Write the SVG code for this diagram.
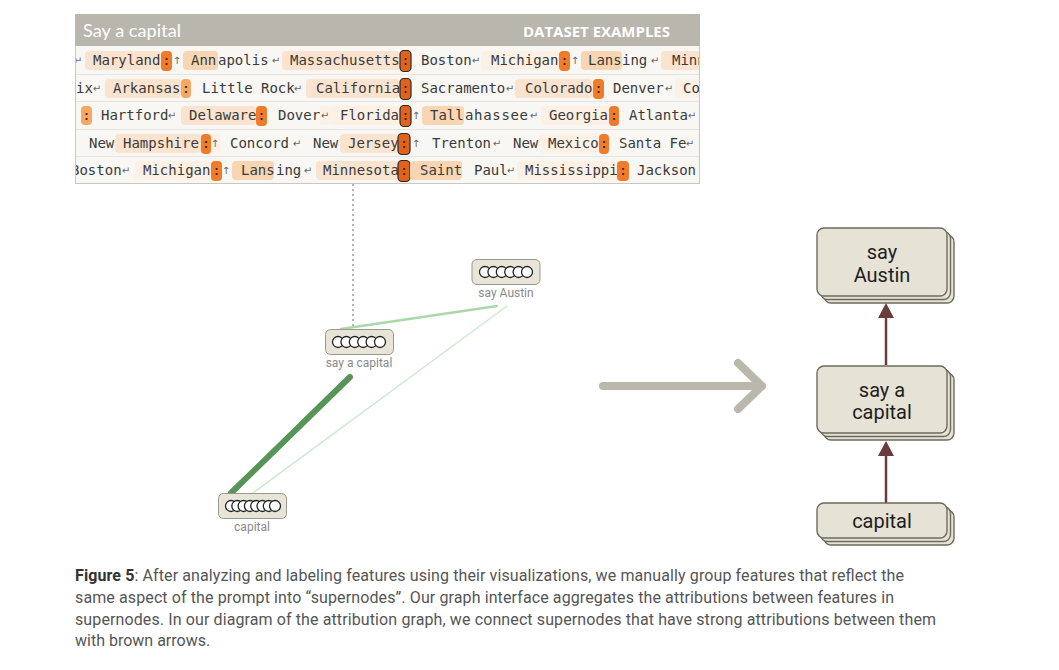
<svg xmlns="http://www.w3.org/2000/svg" width="1059" height="670" viewBox="0 0 1059 670">
<style>
.m{font-family:"DejaVu Sans Mono",monospace;font-size:14px;fill:#3a3a3a}
.cl{font-family:"DejaVu Sans Mono",monospace;font-size:14px;fill:#3a2010;text-anchor:middle}
.ar{font-family:"DejaVu Sans",sans-serif;font-size:10px;fill:#666;text-anchor:middle}
.h1{fill:#fbe4cf}
.h0{fill:#fdf0e4}
.h2{fill:#f9d6b3}
.c{fill:#f07b2b}
.cL{fill:#f6a764}
.cd{fill:#e2621b;stroke:#2a2a2a;stroke-width:1.2}
.gn rect.b{fill:#e8e5d8;stroke:#9a988c;stroke-width:1}
.gn circle{fill:#fff;stroke:#222;stroke-width:1.3}
.gl{font-family:Roboto,"Liberation Sans",sans-serif;font-size:12px;fill:#8a8a8a;text-anchor:middle}
.sn rect{fill:#e6e2d6;stroke:#6d6b5e;stroke-width:1.4}
.st{font-family:Roboto,"Liberation Sans",sans-serif;font-size:20px;fill:#1e1e1e;text-anchor:middle}
.cap{font-family:Roboto,"Liberation Sans",sans-serif;font-size:16px;fill:#555}
.ah{fill:#6b3a3a}
</style>
<defs>
<clipPath id="pc"><rect x="76" y="46" width="623" height="137"/></clipPath>
</defs>
<rect width="1059" height="670" fill="#fff"/>

<g id="dataset-panel">
<rect x="75.5" y="14.5" width="624" height="169" fill="#f8f7f3" stroke="#c9c7bf"/>
<rect x="75" y="14" width="625" height="32" fill="#b9b6ad"/>
<text x="83" y="37" font-family="Lato,'Open Sans',sans-serif" font-size="18" fill="#fff" textLength="98" lengthAdjust="spacingAndGlyphs">Say a capital</text>
<text x="523" y="37" font-family="'Open Sans','Noto Sans',sans-serif" font-size="14" font-weight="bold" fill="#fff" textLength="147" lengthAdjust="spacingAndGlyphs">DATASET EXAMPLES</text>
<g stroke="#e6e4de" stroke-width="1">
<line x1="76" y1="74.5" x2="699" y2="74.5"/>
<line x1="76" y1="101.5" x2="699" y2="101.5"/>
<line x1="76" y1="129.5" x2="699" y2="129.5"/>
<line x1="76" y1="156.5" x2="699" y2="156.5"/>
</g>
<g clip-path="url(#pc)">
<!-- row 1 -->
<text class="ar" x="78" y="64" fill="#aaa">↵</text>
<rect class="h1" x="85" y="51" width="76" height="19" rx="4"/><text class="m" x="93" y="65">Maryland</text>
<rect class="c" x="161" y="51" width="11" height="20" rx="4"/><text class="cl" x="166.5" y="65">:</text>
<text class="ar" x="177" y="64">↑</text>
<rect class="h2" x="183" y="51" width="35" height="19" rx="4"/><text class="m" x="191" y="65">Ann</text>
<text class="m" x="218" y="65">apolis</text>
<text class="ar" x="276" y="64">↵</text>
<rect class="h1" x="282" y="51" width="118" height="19" rx="4"/><text class="m" x="290" y="65">Massachusetts</text>
<rect class="cd" x="400" y="50.5" width="11" height="21" rx="4"/><text class="cl" x="405.5" y="65">:</text>
<text class="m" x="421" y="65">Boston</text>
<text class="ar" x="476" y="64">↵</text>
<rect class="h0" x="481" y="51" width="78" height="19" rx="4"/><text class="m" x="491" y="65">Michigan</text>
<rect class="c" x="559" y="51" width="11" height="20" rx="4"/><text class="cl" x="564.5" y="65">:</text>
<text class="ar" x="575" y="64">↑</text>
<rect class="h2" x="581" y="51" width="41" height="19" rx="4"/><text class="m" x="588" y="65">Lans</text>
<text class="m" x="622" y="65">ing</text>
<text class="ar" x="655" y="64">↵</text>
<rect class="h1" x="661" y="51" width="50" height="19" rx="4"/><text class="m" x="672" y="65">Minn</text>
<!-- row 2 -->
<text class="m" x="76" y="93">ix</text>
<text class="ar" x="97" y="92">↵</text>
<rect class="h1" x="105" y="79" width="76" height="19" rx="4"/><text class="m" x="113" y="93">Arkansas</text>
<rect class="cL" x="181" y="79" width="10" height="19" rx="4"/><text class="cl" x="186" y="93">:</text>
<text class="m" x="202" y="93">Little Rock</text>
<text class="ar" x="298" y="92">↵</text>
<rect class="h1" x="306" y="79" width="94" height="19" rx="4"/><text class="m" x="316" y="93">California</text>
<rect class="cd" x="400" y="78.5" width="11" height="21" rx="4"/><text class="cl" x="405.5" y="93">:</text>
<text class="m" x="421" y="93">Sacramento</text>
<text class="ar" x="510" y="92">↵</text>
<rect class="h1" x="515" y="79" width="78" height="19" rx="4"/><text class="m" x="525" y="93">Colorado</text>
<rect class="c" x="593" y="79" width="11" height="20" rx="4"/><text class="cl" x="598.5" y="93">:</text>
<text class="m" x="613" y="93">Denver</text>
<text class="ar" x="669" y="92">↵</text>
<rect class="h0" x="675" y="79" width="40" height="19" rx="4"/><text class="m" x="683" y="93">Co</text>
<!-- row 3 -->
<rect class="cL" x="81" y="106" width="11" height="19" rx="4"/><text class="cl" x="86.5" y="120">:</text>
<text class="m" x="101" y="120">Hartford</text>
<text class="ar" x="172" y="119">↵</text>
<rect class="h1" x="181" y="106" width="75" height="19" rx="4"/><text class="m" x="189" y="120">Delaware</text>
<rect class="c" x="256" y="106" width="11" height="20" rx="4"/><text class="cl" x="261.5" y="120">:</text>
<text class="m" x="278" y="120">Dover</text>
<rect class="h0" x="320" y="106" width="10" height="19" rx="3"/><text class="ar" x="325" y="119">↵</text>
<rect class="h0" x="330" y="106" width="70" height="19" rx="4"/><text class="m" x="340" y="120">Florida</text>
<rect class="cd" x="400" y="105.5" width="11" height="21" rx="4"/><text class="cl" x="405.5" y="120">:</text>
<text class="ar" x="416" y="119">↑</text>
<rect class="h2" x="422" y="106" width="42" height="19" rx="4"/><text class="m" x="430" y="120">Tall</text>
<text class="m" x="465" y="120" textLength="63">ahassee</text>
<text class="ar" x="534" y="119">↵</text>
<rect class="h0" x="541" y="106" width="68" height="19" rx="4"/><text class="m" x="549" y="120">Georgia</text>
<rect class="c" x="609" y="106" width="10" height="20" rx="4"/><text class="cl" x="614" y="120">:</text>
<text class="m" x="629" y="120">Atlanta</text>
<text class="ar" x="692" y="119">↵</text>
<!-- row 4 -->
<text class="m" x="89" y="148">New</text>
<rect class="h0" x="115" y="134" width="105" height="19" rx="4"/>
<rect class="h1" x="115" y="134" width="86" height="19" rx="4"/><text class="m" x="123" y="148">Hampshire</text>
<rect class="c" x="201" y="134" width="10" height="20" rx="4"/><text class="cl" x="206" y="148">:</text>
<text class="ar" x="215" y="147">↑</text>
<text class="m" x="230" y="148">Concord</text>
<text class="ar" x="297" y="147">↵</text>
<text class="m" x="313" y="148">New</text>
<rect class="h1" x="340" y="134" width="58" height="19" rx="4"/><text class="m" x="348" y="148">Jersey</text>
<rect class="cd" x="398" y="133.5" width="12" height="21" rx="4"/><text class="cl" x="404" y="148">:</text>
<text class="ar" x="416" y="147">↑</text>
<text class="m" x="432" y="148">Trenton</text>
<text class="ar" x="497" y="147">↵</text>
<text class="m" x="513" y="148">New</text>
<rect class="h0" x="539" y="134" width="60" height="19" rx="4"/><text class="m" x="548" y="148">Mexico</text>
<rect class="c" x="599" y="134" width="10" height="20" rx="4"/><text class="cl" x="604" y="148">:</text>
<text class="m" x="619" y="148">Santa Fe</text>
<text class="ar" x="690" y="147">↵</text>
<!-- row 5 -->
<text class="m" x="71" y="175">Boston</text>
<text class="ar" x="126" y="174">↵</text>
<rect class="h0" x="135" y="161" width="76" height="19" rx="4"/><text class="m" x="143" y="175">Michigan</text>
<rect class="c" x="211" y="161" width="11" height="20" rx="4"/><text class="cl" x="216.5" y="175">:</text>
<text class="ar" x="226" y="174">↑</text>
<rect class="h2" x="232" y="161" width="42" height="19" rx="4"/><text class="m" x="241" y="175">Lans</text>
<text class="m" x="276" y="175">ing</text>
<text class="ar" x="308" y="174">↵</text>
<rect class="h1" x="316" y="161" width="82" height="19" rx="4"/><text class="m" x="323" y="175">Minnesota</text>
<rect class="cd" x="398" y="160.5" width="12" height="21" rx="4"/><text class="cl" x="404" y="175">:</text>
<rect class="h2" x="410" y="161" width="52" height="19" rx="4"/><text class="m" x="420" y="175">Saint</text>
<text class="m" x="474" y="175">Paul</text>
<text class="ar" x="511" y="174">↵</text>
<rect class="h0" x="517" y="161" width="100" height="19" rx="4"/><text class="m" x="525" y="175">Mississippi</text>
<rect class="c" x="617" y="161" width="12" height="20" rx="4"/><text class="cl" x="623" y="175">:</text>
<text class="m" x="637" y="175">Jackson</text>
</g>
</g>

<g id="connectors">
<line x1="353" y1="184" x2="353" y2="329" stroke="#9a9a9a" stroke-width="1.5" stroke-dasharray="2,3"/>
<line x1="341" y1="329" x2="497" y2="306" stroke="#a9d9a9" stroke-width="2.5" stroke-linecap="round"/>
<line x1="507" y1="306" x2="253" y2="493" stroke="#cfe9cf" stroke-width="1.5" stroke-linecap="round"/>
<line x1="350" y1="377" x2="231" y2="493" stroke="#579457" stroke-width="6" stroke-linecap="round"/>
<line x1="886" y1="365" x2="886" y2="316" stroke="#6b3a3a" stroke-width="2.5"/>
<polygon class="ah" points="886,303 894,318 878,318"/>
<line x1="886" y1="503" x2="886" y2="454" stroke="#6b3a3a" stroke-width="2.5"/>
<polygon class="ah" points="886,441 894,456 878,456"/>
<path d="M603,386 H762 M738,363 L762,386 L738,409" fill="none" stroke="#bab7ad" stroke-width="8" stroke-linecap="round" stroke-linejoin="round"/>
</g>

<g id="g-say-austin" class="gn">
<rect class="b" x="472" y="259.5" width="68" height="25" rx="5"/>
<circle cx="485" cy="272" r="5.5"/><circle cx="493.4" cy="272" r="5.5"/><circle cx="501.8" cy="272" r="5.5"/><circle cx="510.2" cy="272" r="5.5"/><circle cx="518.6" cy="272" r="5.5"/><circle cx="527" cy="272" r="5.5"/>
<text class="gl" x="506" y="297">say Austin</text>
</g>
<g id="g-say-a-capital" class="gn">
<rect class="b" x="325.5" y="329.5" width="68" height="25" rx="5"/>
<circle cx="338" cy="342" r="5.5"/><circle cx="346.4" cy="342" r="5.5"/><circle cx="354.8" cy="342" r="5.5"/><circle cx="363.2" cy="342" r="5.5"/><circle cx="371.6" cy="342" r="5.5"/><circle cx="380" cy="342" r="5.5"/>
<text class="gl" x="359" y="367">say a capital</text>
</g>
<g id="g-capital" class="gn">
<rect class="b" x="218.5" y="493.5" width="68" height="25" rx="5"/>
<circle cx="231" cy="506" r="5.5"/><circle cx="237.3" cy="506" r="5.5"/><circle cx="243.6" cy="506" r="5.5"/><circle cx="249.9" cy="506" r="5.5"/><circle cx="256.2" cy="506" r="5.5"/><circle cx="262.5" cy="506" r="5.5"/><circle cx="268.8" cy="506" r="5.5"/><circle cx="275" cy="506" r="5.5"/>
<text class="gl" x="252" y="531">capital</text>
</g>

<g id="s-say-austin" class="sn">
<rect x="824" y="235" width="130" height="68" rx="7"/>
<rect x="820.5" y="231.5" width="130" height="68" rx="7"/>
<rect x="817" y="228" width="130" height="68" rx="7"/>
<text class="st" x="882" y="259">say</text>
<text class="st" x="882" y="282">Austin</text>
</g>
<g id="s-say-a-capital" class="sn">
<rect x="824" y="373" width="130" height="67" rx="7"/>
<rect x="820.5" y="369.5" width="130" height="67" rx="7"/>
<rect x="817" y="366" width="130" height="67" rx="7"/>
<text class="st" x="882" y="397">say a</text>
<text class="st" x="882" y="419">capital</text>
</g>
<g id="s-capital" class="sn">
<rect x="824" y="510" width="130" height="35" rx="7"/>
<rect x="820.5" y="506.5" width="130" height="35" rx="7"/>
<rect x="817" y="503" width="130" height="35" rx="7"/>
<text class="st" x="882" y="528">capital</text>
</g>

<g id="caption">
<text class="cap" x="75" y="581" textLength="829"><tspan font-weight="bold" fill="#333">Figure 5</tspan>: After analyzing and labeling features using their visualizations, we manually group features that reflect the</text>
<text class="cap" x="75" y="603" textLength="819">same aspect of the prompt into “supernodes”. Our graph interface aggregates the attributions between features in</text>
<text class="cap" x="75" y="625" textLength="861">supernodes. In our diagram of the attribution graph, we connect supernodes that have strong attributions between them</text>
<text class="cap" x="75" y="646">with brown arrows.</text>
</g>
</svg>
